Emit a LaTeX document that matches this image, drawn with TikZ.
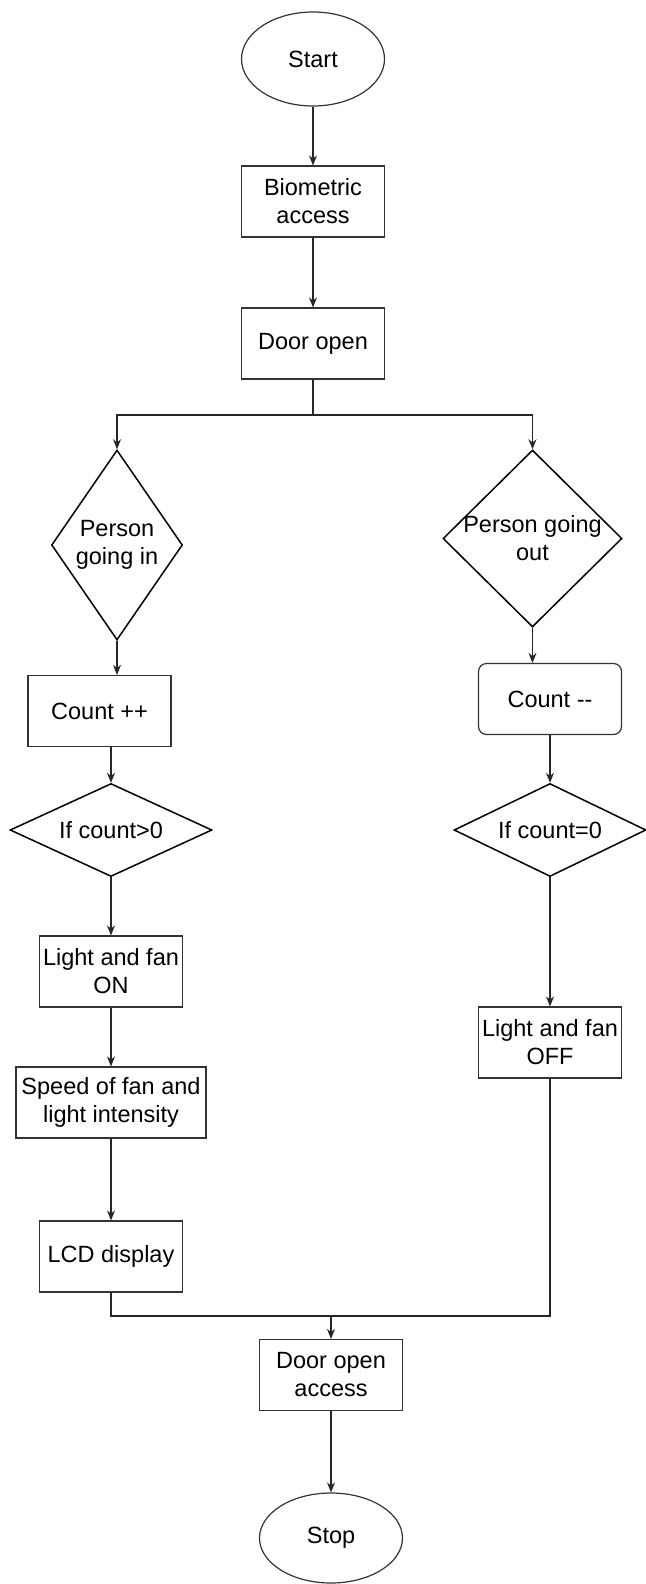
\documentclass[tikz,border=0pt]{standalone}
\usepackage{fontspec}
\setmainfont{Liberation Sans}
\usetikzlibrary{shapes.geometric,arrows.meta}

\begin{document}
\begin{tikzpicture}[
  x=1pt, y=-1pt,
  line width=1.2pt, draw=black!85,
  base/.style={draw=black!80, line width=1.2pt, align=center, inner sep=2pt, font=\fontsize{23.5}{28}\selectfont},
  terminal/.style={base, ellipse, minimum width=143pt, minimum height=94pt},
  process/.style={base, rectangle, minimum width=143pt, minimum height=71pt},
  decision/.style={base, diamond, inner sep=0pt, draw=black, line width=1.5pt},
  lbl/.style={align=center, inner sep=0pt, font=\fontsize{23.5}{28}\selectfont},
  arrow/.style={-{Stealth[length=10pt, width=8pt]}, line width=1.1pt, draw=black!85},
]
\useasboundingbox (0,0) rectangle (645,1584);

% === Top ===
\node[terminal] (start) at (313, 59) {Start};
\node[process] (bio) at (313, 201.5) {Biometric\\access};
\node[process] (door) at (313, 343.5) {Door open};

\draw[arrow] (start) -- (bio);
\draw[arrow] (bio) -- (door);

% === Branches ===
\coordinate (split) at (313, 415);
\node[decision, minimum width=131pt, minimum height=190pt,
  label={[lbl]center:Person\\going in}] (pin) at (117, 545) {};
\node[decision, minimum width=179pt, minimum height=177pt,
  label={[lbl]center:Person going\\out}] (pout) at (532.5, 538.5) {};

\draw (door.south) -- (split);
\draw[arrow] (split) -| (pin.north);
\draw[arrow] (split) -| (pout.north);

% === Going in ===
\node[process] (cinc) at (99.5, 711) {Count ++};
\node[decision, minimum width=202pt, minimum height=93pt,
  label={[lbl]center:If count>0}] (ifgt) at (111, 830) {};
\node[process] (lon) at (111, 971.5) {Light and fan\\ON};
\node[process, minimum width=190pt] (speed) at (111, 1102.5) {Speed of fan and\\light intensity};
\node[process] (lcd) at (111, 1256.5) {LCD display};

\draw[arrow] (pin.south) -- (pin.south |- cinc.north);
\draw[arrow] (ifgt.north |- cinc.south) -- (ifgt.north);
\draw[arrow] (ifgt.south) -- (lon.north);
\draw[arrow] (lon) -- (speed);
\draw[arrow] (speed) -- (lcd);

% === Going out ===
\node[process, rounded corners=8pt] (cdec) at (550, 699) {Count \mbox{-}\mbox{-}};
\node[decision, minimum width=192pt, minimum height=93pt,
  label={[lbl]center:If count=0}] (ifeq) at (550, 830) {};
\node[process] (loff) at (550, 1042.5) {Light and fan\\OFF};

\draw[arrow] (pout.south) -- (pout.south |- cdec.north);
\draw[arrow] (cdec) -- (ifeq.north);
\draw[arrow] (ifeq.south) -- (loff.north);

% === Merge ===
\coordinate (merge) at (331, 1316);
\node[process] (dacc) at (331, 1375) {Door open\\access};
\node[terminal, minimum height=90pt] (stop) at (331, 1538) {Stop};

\draw (lcd.south) |- (merge);
\draw (loff.south) |- (merge);
\draw[arrow] (merge) -- (dacc.north);
\draw[arrow] (dacc) -- (stop);

\end{tikzpicture}
\end{document}
